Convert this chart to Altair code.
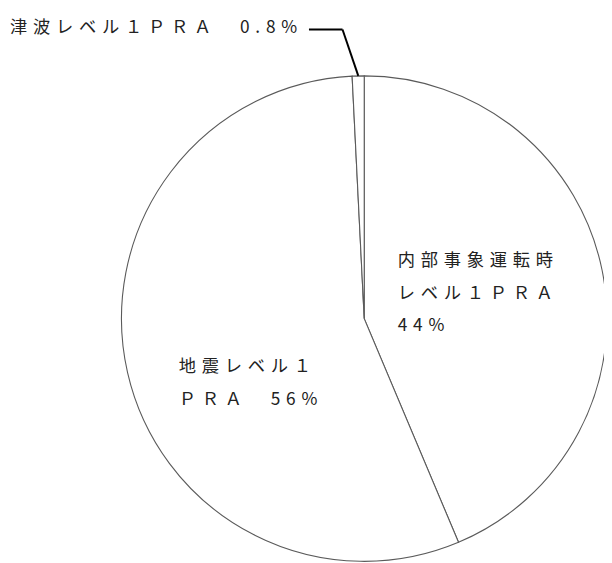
import altair as alt
import pandas as pd

# ---- data ----
categories = ["内部事象運転時レベル１ＰＲＡ", "地震レベル１ＰＲＡ", "津波レベル１ＰＲＡ"]
values = [44, 56, 0.8]

# label texts (lines)
label_internal = ["内部事象運転時", "レベル１ＰＲＡ", "44%"]
label_quake = ["地震レベル１", "ＰＲＡ　56%"]
label_tsunami = ["津波レベル１ＰＲＡ　0.8%"]

# ---- layout ----
W, H = 604, 560
CX, CY, R = 361, 311, 246
FONT = "Noto Sans CJK JP"
FS = 17.5
TXT = "#222222"


def spaced(s, sp="\u2004"):
    return sp.join(s)


df = pd.DataFrame({"category": categories, "value": values, "order": list(range(len(values)))})

pie = alt.Chart(df).mark_arc(
    fill="white", stroke="#5a5a5a", strokeWidth=1.1, outerRadius=R
).encode(
    theta=alt.Theta("value:Q", stack=True),
    order=alt.Order("order:Q"),
    x=alt.value(CX),
    y=alt.value(CY),
)

base_txt = alt.Chart(pd.DataFrame({"a": [0]}))


def text_layer(s, x, y):
    return base_txt.mark_text(
        text=spaced(s), font=FONT, fontSize=FS, align="left", baseline="middle", color=TXT
    ).encode(x=alt.value(x), y=alt.value(y))


layers = [pie]
# internal event label
for i, s in enumerate(label_internal):
    layers.append(text_layer(s, 395, 253 + 33 * i))
# earthquake label
for i, s in enumerate(label_quake):
    layers.append(text_layer(s, 173, 360 + 34 * i))
# tsunami label
layers.append(text_layer(label_tsunami[0], 2, 17))

# leader line
leader1 = base_txt.mark_rule(color="black", strokeWidth=2).encode(
    x=alt.value(305), x2=alt.value(339), y=alt.value(18), y2=alt.value(18)
)
leader2 = base_txt.mark_rule(color="black", strokeWidth=2).encode(
    x=alt.value(339), x2=alt.value(355), y=alt.value(18), y2=alt.value(65)
)
layers += [leader1, leader2]

chart = alt.layer(*layers).properties(
    width=W, height=H, padding=0,
    autosize=alt.AutoSizeParams(type="none"),
).configure_view(stroke=None)

chart.save("out.html", embed_options={"renderer": "svg", "actions": False})
